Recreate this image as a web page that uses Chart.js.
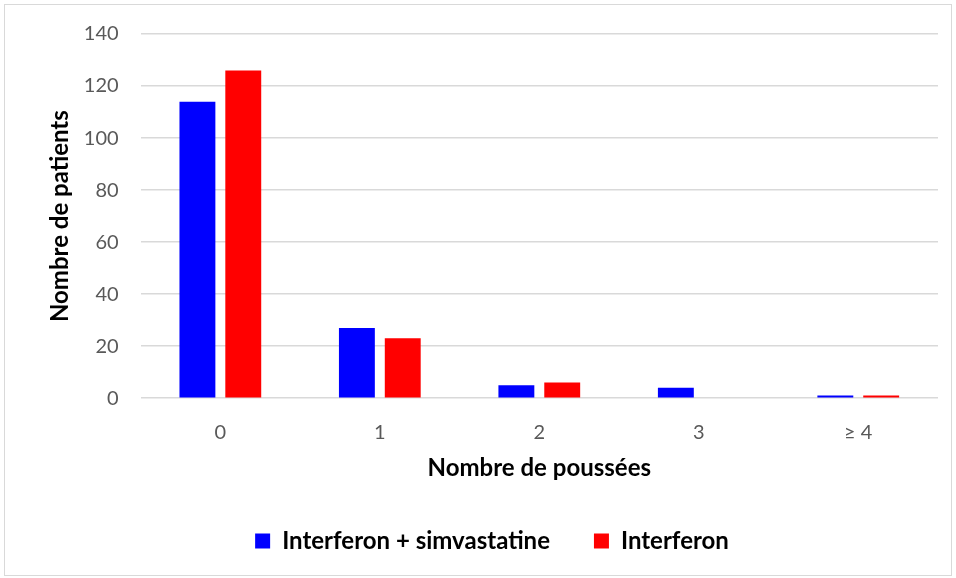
<!DOCTYPE html>
<html>
<head>
<meta charset="utf-8">
<script src="https://cdn.jsdelivr.net/npm/chart.js@4.4.0/dist/chart.umd.min.js"></script>
<style>
  body { margin: 0; background: #fff; }
  #frame { position: absolute; left: 4px; top: 4px; width: 946px; height: 570px; border: 1px solid #d9d9d9; }
  #wrap { position: absolute; left: 0; top: 0; width: 956px; height: 578px; }
</style>
</head>
<body>
<div id="frame"></div>
<div id="wrap"><canvas id="myChart"></canvas></div>
<script>
// categories and series
const categories = ['0', '1', '2', '3', '\u2265 4'];
const comboValues = [114, 27, 5, 4, 1];
const interferonValues = [126, 23, 6, 0, 1];
const yTicks = [0, 20, 40, 60, 80, 100, 120, 140];

const fontFamily = "Lato, 'Open Sans', sans-serif";

//Draw the grouped bar chart
function createChart() {
  const ctx = document.getElementById('myChart');
  new Chart(ctx, {
    type: 'bar',
    data: {
      labels: categories,
      datasets: [{
        label: 'Interferon + simvastatine',
        data: comboValues,
        backgroundColor: '#0000ff',
        borderWidth: 0
      }, {
        label: 'Interferon',
        data: interferonValues,
        backgroundColor: '#ff0000',
        borderWidth: 0
      }]
    },
    options: {
      responsive: true,
      maintainAspectRatio: false,
      animation: false,
      categoryPercentage: 0.575,
      barPercentage: 0.783,
      layout: { padding: { left: 46, right: 18, top: 26, bottom: 15 } },
      plugins: {
        tooltip: { enabled: false },
        legend: {
          position: 'bottom',
          labels: {
            boxWidth: 15,
            boxHeight: 15,
            padding: 44,
            color: '#000',
            font: { family: fontFamily, size: 24, weight: 'bold' }
          }
        }
      },
      scales: {
        x: {
          grid: { display: false },
          border: { display: false },
          ticks: { color: '#595959', font: { family: fontFamily, size: 20 }, padding: 14 },
          title: {
            display: true,
            text: 'Nombre de poussées',
            color: '#000',
            font: { family: fontFamily, size: 24, weight: 'bold' },
            padding: { top: -4, bottom: 2 }
          }
        },
        y: {
          min: 0,
          max: 140,
          afterBuildTicks: axis => { axis.ticks = yTicks.map(v => ({ value: v })); },
          grid: { color: '#d9d9d9', lineWidth: 1.5, drawTicks: false },
          border: { display: false },
          ticks: { color: '#595959', font: { family: fontFamily, size: 20 }, padding: 22 },
          title: {
            display: true,
            text: 'Nombre de patients',
            color: '#000',
            font: { family: fontFamily, size: 24, weight: 'bold' },
            padding: { top: 0, bottom: -13 }
          }
        }
      }
    }
  });
}

createChart();
</script>
</body>
</html>
